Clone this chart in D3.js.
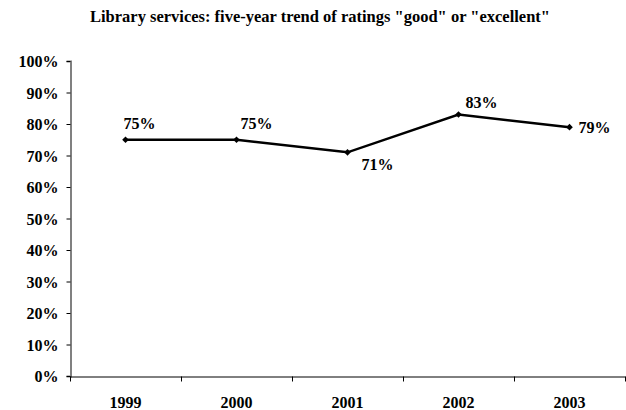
<!DOCTYPE html>
<html>
<head>
<meta charset="utf-8">
<script src="https://cdn.jsdelivr.net/npm/d3@7"></script>
<style>
  html, body { margin: 0; padding: 0; background: #fff; }
  svg text { font-family: "Liberation Serif", "Times New Roman", serif; font-weight: bold; fill: #000; }
</style>
</head>
<body>
<svg id="chart" width="626" height="410"></svg>
<script>
const title = 'Library services: five-year trend of ratings "good" or "excellent"';
const years = ["1999", "2000", "2001", "2002", "2003"];
const ratings = [75, 75, 71, 83, 79];
const yTicks = [0, 10, 20, 30, 40, 50, 60, 70, 80, 90, 100];
// label placement (dx, dy from point), layout only
const labelOffsets = [[-2, -11], [4, -11], [14, 18], [7, -7], [9, 6]];

const svg = d3.select("#chart");
const margin = { left: 70, right: 1, top: 61, bottom: 34 };
const W = 626, H = 410;

const x = d3.scaleBand().domain(years).range([margin.left, W - margin.right]);
const y = d3.scaleLinear().domain([0, 100]).range([H - margin.bottom, margin.top]);

svg.append("text")
  .attr("x", 320).attr("y", 22)
  .attr("text-anchor", "middle")
  .style("font-size", "16.5px")
  .text(title);

// Y axis
const yAxis = d3.axisLeft(y).tickValues(yTicks).tickSize(4).tickPadding(8)
  .tickFormat(d => d + "%");
const gy = svg.append("g").attr("transform", `translate(${margin.left + 0.5},0)`).call(yAxis);
gy.select(".domain").attr("stroke", "#808080").attr("stroke-width", 2);
gy.selectAll(".tick line").attr("stroke", "#000");
gy.selectAll(".tick text").style("font-size", "16px").attr("dy", "0.35em");

// X axis
const xAxis = d3.axisBottom(x).tickSize(0).tickPadding(20);
const gx = svg.append("g").attr("transform", `translate(0,${y(0) + 0.5})`).call(xAxis);
gx.select(".domain").attr("stroke", "#000").attr("stroke-width", 1);
gx.selectAll(".tick text").style("font-size", "16px");
// category boundary ticks
const bounds = years.map(d => x(d)).concat([x(years[years.length - 1]) + x.bandwidth()]);
gx.selectAll(".bound").data(bounds).enter().append("line")
  .attr("class", "bound")
  .attr("x1", d => Math.round(d) + 0.5).attr("x2", d => Math.round(d) + 0.5)
  .attr("y1", 0).attr("y2", 5)
  .attr("stroke", "#000");

// Line
const cx = d => x(d) + x.bandwidth() / 2;
const line = d3.line().x((d, i) => cx(years[i])).y(d => y(d));
svg.append("path").datum(ratings)
  .attr("d", line)
  .attr("fill", "none").attr("stroke", "#000").attr("stroke-width", 2.5);

// Diamond markers
const diamond = d3.symbol().type(d3.symbolDiamond2).size(28);
svg.selectAll(".marker").data(ratings).enter().append("path")
  .attr("class", "marker")
  .attr("d", diamond)
  .attr("transform", (d, i) => `translate(${cx(years[i])},${y(d)})`)
  .attr("fill", "#000");

// Data labels
svg.selectAll(".lbl").data(ratings).enter().append("text")
  .attr("class", "lbl")
  .attr("x", (d, i) => cx(years[i]) + labelOffsets[i][0])
  .attr("y", (d, i) => y(d) + labelOffsets[i][1])
  .style("font-size", "16px")
  .text(d => d + "%");
</script>
</body>
</html>
